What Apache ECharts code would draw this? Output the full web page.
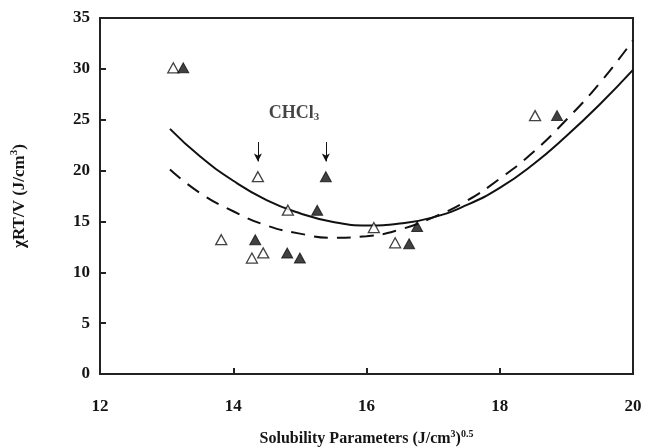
<!DOCTYPE html>
<html>
<head>
<meta charset="utf-8">
<script src="https://cdn.jsdelivr.net/npm/echarts@6/dist/echarts.min.js"></script>
<style>html,body{margin:0;padding:0;background:#fff}#c{width:645px;height:448px}</style>
</head>
<body>
<div id="c"></div>
<script>
// open triangles
const openX = [13.10, 14.37, 14.82, 16.11, 13.82, 14.28, 14.45, 16.43, 18.53];
const openY = [30.1, 19.4, 16.1, 14.4, 13.2, 11.4, 11.9, 12.9, 25.4];
// filled triangles
const filledX = [13.25, 15.39, 15.26, 14.33, 14.81, 15.00, 16.76, 16.64, 18.86];
const filledY = [30.1, 19.4, 16.1, 13.2, 11.9, 11.4, 14.5, 12.8, 25.4];
// fitted curves
const curveX = [13.05, 13.5, 14, 14.5, 15, 15.5, 16, 16.5, 17, 17.5, 18, 18.5, 19, 19.5, 20];
const solidY = [24.1, 21.4, 19.0, 17.1, 15.8, 14.95, 14.6, 14.8, 15.4, 16.6, 18.3, 20.6, 23.4, 26.5, 29.9];
const dashedY = [20.1, 17.8, 16.0, 14.6, 13.8, 13.4, 13.55, 14.2, 15.4, 17.0, 19.2, 21.8, 25.0, 28.6, 32.8];
// CHCl3 arrows and label
const arrowX = [14.37, 15.39];
const arrowTop = 22.8, arrowBottom = 20.9;
const labelPos = [14.91, 25.6];
const labelText = 'CHCl';

const zip = (xs, ys) => xs.map((x, i) => [x, ys[i]]);
const font = '"Liberation Serif", "DejaVu Serif", serif';
const ink = '#151515';

const chart = echarts.init(document.getElementById('c'), null, {renderer: 'canvas'});
chart.setOption({
  animation: false,
  backgroundColor: '#fff',
  grid: {left: 100, right: 12, top: 18, bottom: 74, containLabel: false, outerBoundsMode: 'none',
         show: true, borderColor: '#222', borderWidth: 2, backgroundColor: 'transparent'},
  xAxis: {
    type: 'value', min: 12, max: 20, interval: 2,
    axisLine: {lineStyle: {color: '#222', width: 2}},
    axisTick: {inside: true, length: 6, lineStyle: {color: '#222', width: 2}},
    splitLine: {show: false},
    axisLabel: {fontFamily: font, fontWeight: 'bold', fontSize: 17, color: ink, margin: 24},
    name: '{a|Solubility Parameters (J/cm}{s|3}{a|)}{s|0.5}',
    nameLocation: 'middle', nameGap: 55,
    nameTextStyle: {
      rich: {
        a: {fontFamily: font, fontWeight: 'bold', fontSize: 16, color: ink},
        s: {fontFamily: font, fontWeight: 'bold', fontSize: 10, color: ink, padding: [0, 0, 10, 0]}
      }
    }
  },
  yAxis: {
    type: 'value', min: 0, max: 35, interval: 5,
    axisLine: {lineStyle: {color: '#222', width: 2}},
    axisTick: {inside: true, length: 6, lineStyle: {color: '#222', width: 2}},
    splitLine: {show: false},
    axisLabel: {fontFamily: font, fontWeight: 'bold', fontSize: 17, color: ink, margin: 10},
    name: '{a|χRT/V (J/cm}{s|3}{a|)}',
    nameLocation: 'middle', nameGap: 70, nameRotate: 90,
    nameTextStyle: {
      rich: {
        a: {fontFamily: font, fontWeight: 'bold', fontSize: 17, color: ink},
        s: {fontFamily: font, fontWeight: 'bold', fontSize: 11, color: ink, padding: [0, 0, 10, 0]}
      }
    }
  },
  series: [
    {
      type: 'line', data: zip(curveX, solidY), smooth: true, symbol: 'none',
      lineStyle: {color: '#111', width: 2}, z: 2
    },
    {
      type: 'line', data: zip(curveX, dashedY), smooth: true, symbol: 'none',
      lineStyle: {color: '#111', width: 2, type: [14, 9]}, z: 2
    },
    {
      type: 'scatter', data: zip(openX, openY), symbol: 'triangle', symbolSize: [11, 10],
      itemStyle: {color: '#fff', borderColor: '#111', borderWidth: 1.3}, z: 3
    },
    {
      type: 'scatter', data: zip(filledX, filledY), symbol: 'triangle', symbolSize: [11, 10],
      itemStyle: {color: '#111', borderColor: '#111', borderWidth: 1}, z: 3,
      markLine: {
        silent: true, symbol: ['none', 'arrow'], symbolSize: [6, 8],
        lineStyle: {color: '#111', width: 1, type: 'solid'},
        label: {show: false},
        data: arrowX.map(x => [{coord: [x, arrowTop]}, {coord: [x, arrowBottom]}])
      }
    },
    {
      type: 'scatter', data: [labelPos], symbol: 'circle', symbolSize: 1,
      itemStyle: {color: 'rgba(0,0,0,0)'}, silent: true, z: 4,
      label: {
        show: true, position: 'inside',
        formatter: '{a|' + labelText + '}{b|3}',
        rich: {
          a: {fontFamily: font, fontWeight: 'bold', fontSize: 18, color: ink},
          b: {fontFamily: font, fontWeight: 'bold', fontSize: 11, color: ink, padding: [8, 0, 0, 0]}
        }
      }
    }
  ]
});
</script>
</body>
</html>
